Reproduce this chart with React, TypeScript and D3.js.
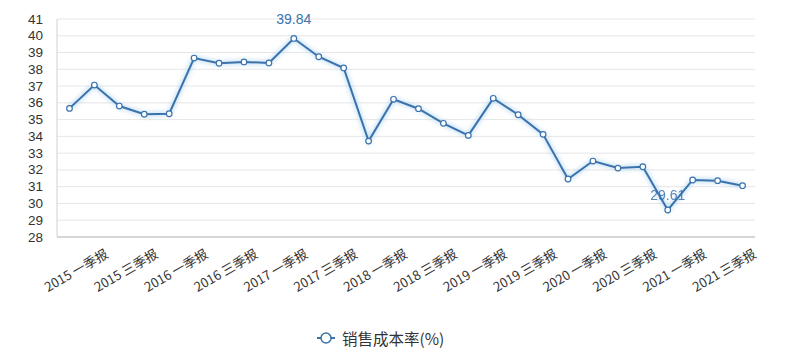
import React from "react";
import * as d3 from "d3";

const years = ["2015", "2016", "2017", "2018", "2019", "2020", "2021"];
const quarters = ["一季报", "中报", "三季报", "年报"];
const categories: string[] = years.flatMap((y) => quarters.map((q) => `${y} ${q}`));
const seriesName = "销售成本率(%)";
const values = [
  35.67, 37.06, 35.81, 35.32, 35.35, 38.67, 38.36, 38.44, 38.38, 39.84,
  38.75, 38.08, 33.72, 36.21, 35.65, 34.78, 34.06, 36.27, 35.29, 34.12,
  31.46, 32.53, 32.11, 32.19, 29.61, 31.4, 31.36, 31.06,
];
const yTicks = [28, 29, 30, 31, 32, 33, 34, 35, 36, 37, 38, 39, 40, 41];

const W = 800;
const H = 360;
const M = { left: 57, right: 45, top: 19, bottom: 123 };
const FONT = "'Noto Sans CJK SC', 'Noto Sans', sans-serif";
const NUMFONT = "'Liberation Sans', Arial, sans-serif";
const BLUE = "#3a72ac";

export default function App() {
  const x = d3
    .scaleBand<string>()
    .domain(categories)
    .range([M.left, W - M.right])
    .paddingInner(0)
    .paddingOuter(0);
  const y = d3.scaleLinear().domain([28, 41]).range([H - M.bottom, M.top]);
  const cx = (c: string) => (x(c) as number) + x.bandwidth() / 2;
  const data = categories.map((c, i) => ({ c, v: values[i] }));
  const line = d3
    .line<{ c: string; v: number }>()
    .x((d) => cx(d.c))
    .y((d) => y(d.v));
  const maxV = d3.max(values) as number;
  const minV = d3.min(values) as number;
  const maxI = values.indexOf(maxV);
  const minI = values.indexOf(minV);
  const axisY = y(28);

  return (
    <svg
      width={W}
      height={H}
      style={{ position: "absolute", left: 0, top: 0, background: "#fff" }}
      fontFamily={FONT}
    >
      <defs>
        <filter id="glow" x="-10%" y="-20%" width="120%" height="140%">
          <feGaussianBlur stdDeviation="2" />
        </filter>
      </defs>
      {yTicks.map((t) => (
        <line
          key={t}
          x1={M.left}
          x2={W - M.right}
          y1={y(t)}
          y2={y(t)}
          stroke="#e6e6e6"
          strokeWidth={1}
        />
      ))}
      <line x1={M.left} x2={M.left} y1={M.top} y2={axisY} stroke="#d0d0d0" strokeWidth={1} />
      <line x1={M.left} x2={W - M.right} y1={axisY} y2={axisY} stroke="#cccccc" strokeWidth={1.5} />
      {yTicks.map((t) => (
        <text
          key={t}
          x={43}
          y={y(t)}
          textAnchor="end"
          dominantBaseline="central"
          fontSize={13.5}
          fontFamily={NUMFONT}
          fill="#333"
        >
          {t}
        </text>
      ))}
      {categories.map((c, i) =>
        i % 2 === 0 ? (
          <text
            key={c}
            transform={`translate(${cx(c) + 37},${axisY + 15}) rotate(-30)`}
            textAnchor="end"
            dominantBaseline="central"
            fontSize={13}
            fill="#333"
          >
            {c}
          </text>
        ) : null
      )}
      <path d={line(data) || ""} fill="none" stroke="#a9d0f0" strokeWidth={5} opacity={0.6} filter="url(#glow)" />
      <path d={line(data) || ""} fill="none" stroke={BLUE} strokeWidth={2} />
      {data.map((d) => (
        <circle key={d.c} cx={cx(d.c)} cy={y(d.v)} r={2.8} fill="#fff" stroke={BLUE} strokeWidth={1.2} />
      ))}
      <text x={cx(categories[maxI])} y={y(maxV) - 14} textAnchor="middle" fontSize={14} fontFamily={NUMFONT} fill={BLUE}>
        {maxV.toFixed(2)}
      </text>
      <text x={cx(categories[minI])} y={y(minV) - 10} textAnchor="middle" fontSize={14} fontFamily={NUMFONT} fill={BLUE} opacity={0.85}>
        {minV.toFixed(2)}
      </text>
      <g transform={`translate(326,338)`}>
        <line x1={-9} x2={9} y1={0} y2={0} stroke={BLUE} strokeWidth={2} />
        <circle cx={0} cy={0} r={5} fill="#fff" stroke={BLUE} strokeWidth={1.5} />
        <text x={16} y={0} dominantBaseline="central" fontSize={15.5} fill="#333">
          {seriesName}
        </text>
      </g>
    </svg>
  );
}
